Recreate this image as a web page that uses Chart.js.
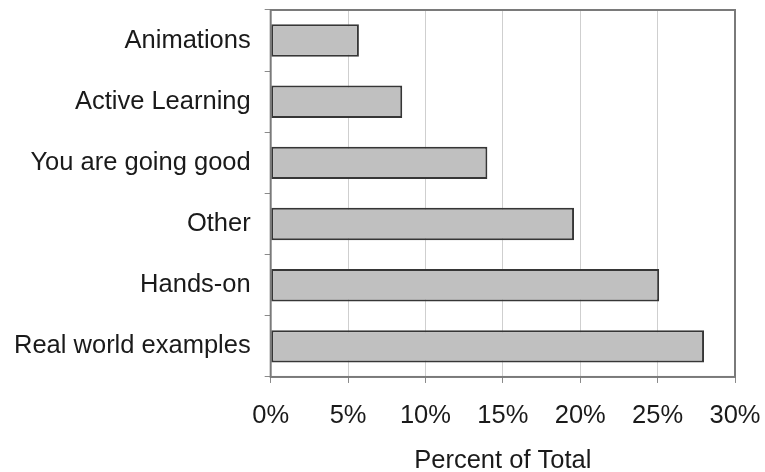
<!DOCTYPE html>
<html>
<head>
<meta charset="utf-8">
<script src="https://cdn.jsdelivr.net/npm/chart.js@4"></script>
<style>
  html, body { margin: 0; padding: 0; background: #fff; }
  #wrap { width: 765px; height: 472px; }
</style>
</head>
<body>
<div id="wrap"><canvas id="surveyChart" width="765" height="472"></canvas></div>
<script>
const categories = ['Animations', 'Active Learning', 'You are going good', 'Other', 'Hands-on', 'Real world examples'];
const percents = [5.7, 8.5, 14.0, 19.6, 25.1, 28.0];
const xTicks = [0, 5, 10, 15, 20, 25, 30];

const labelFont = { family: "'Liberation Sans', Arial, sans-serif", size: 25.5 };

// outline the whole plot area like a framed box
const frame = {
  id: 'frame',
  afterDatasetsDraw(chart) {
    const { ctx, chartArea: a } = chart;
    ctx.save();
    ctx.strokeStyle = '#7a7a7a';
    ctx.lineWidth = 2;
    ctx.strokeRect(a.left, a.top, a.right - a.left, a.bottom - a.top);
    ctx.restore();
  }
};

new Chart(document.getElementById('surveyChart'), {
  type: 'bar',
  data: {
    labels: categories,
    datasets: [{
      data: percents,
      backgroundColor: '#c0c0c0',
      borderColor: '#363636',
      borderWidth: 2,
      borderSkipped: false,
      barPercentage: 0.53,
      categoryPercentage: 1
    }]
  },
  options: {
    indexAxis: 'y',
    responsive: false,
    animation: false,
    layout: { autoPadding: false, padding: { top: 10, left: 0, right: 30, bottom: 0 } },
    plugins: { legend: { display: false }, tooltip: { enabled: false } },
    scales: {
      x: {
        min: 0,
        max: 30,
        afterBuildTicks: (scale) => { scale.ticks = xTicks.map(v => ({ value: v })); },
        // the end labels may hang past the plot edges; keep the plot box fixed
        afterFit: (scale) => { scale.paddingLeft = 0; scale.paddingRight = 0; },
        ticks: {
          color: '#1a1a1a',
          font: labelFont,
          padding: 18,
          maxRotation: 0,
          callback: (v) => v + '%'
        },
        grid: { color: '#cfcfcf', lineWidth: 1, tickLength: 6, tickColor: '#8a8a8a' },
        border: { display: false },
        title: {
          display: true,
          text: 'Percent of Total',
          color: '#1a1a1a',
          font: { ...labelFont, lineHeight: 0.88 },
          padding: { top: 0, bottom: 0 }
        }
      },
      y: {
        afterFit: (scale) => { scale.paddingTop = 0; scale.paddingBottom = 0; },
        ticks: { color: '#1a1a1a', font: labelFont, padding: 14 },
        grid: { drawOnChartArea: false, offset: true, tickLength: 6, tickColor: '#8a8a8a' },
        border: { display: false }
      }
    }
  },
  plugins: [frame]
});
</script>
</body>
</html>
